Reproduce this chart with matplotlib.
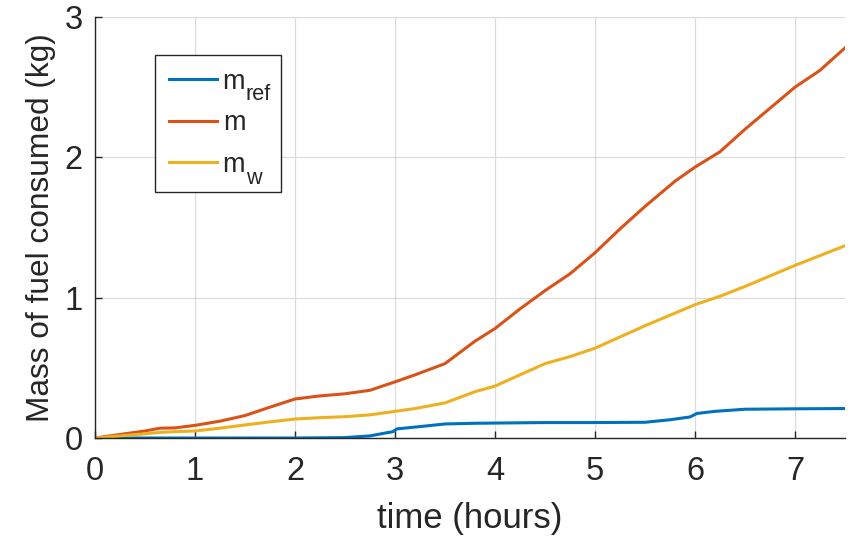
import matplotlib
matplotlib.use("Agg")
import matplotlib.pyplot as plt

plt.rcParams['font.family'] = ['Liberation Sans', 'DejaVu Sans']

# time (hours)
t_m = [0, 0.25, 0.5, 0.65, 0.8, 1.0, 1.25, 1.5, 1.75, 2.0, 2.25, 2.5, 2.75, 3.0, 3.2, 3.5, 3.8,
       4.0, 4.25, 4.5, 4.75, 5.0, 5.25, 5.5, 5.8, 6.0, 6.25, 6.5, 6.75, 7.0, 7.25, 7.5]
m = [0, 0.025, 0.05, 0.07, 0.072, 0.09, 0.12, 0.16, 0.22, 0.278, 0.30, 0.315, 0.34, 0.40, 0.45, 0.53, 0.69,
     0.78, 0.92, 1.05, 1.17, 1.32, 1.49, 1.65, 1.83, 1.93, 2.04, 2.20, 2.35, 2.50, 2.62, 2.78]
m_w = [0, 0.015, 0.03, 0.04, 0.045, 0.05, 0.07, 0.093, 0.115, 0.135, 0.145, 0.152, 0.165, 0.19, 0.21, 0.25, 0.33,
       0.37, 0.45, 0.53, 0.58, 0.64, 0.72, 0.80, 0.89, 0.95, 1.01, 1.08, 1.155, 1.23, 1.30, 1.37]

t_ref = [0, 1.0, 2.0, 2.5, 2.75, 2.9, 2.98, 3.02, 3.3, 3.5, 3.8, 4.5, 5.0, 5.5, 5.75, 5.95, 6.02, 6.2, 6.5, 7.0, 7.5]
m_ref = [0, 0, 0, 0.003, 0.015, 0.035, 0.045, 0.065, 0.085, 0.10, 0.105, 0.11, 0.11, 0.112, 0.13, 0.15, 0.175, 0.19, 0.205, 0.208, 0.21]

# legend labels: base symbol + subscript (MATLAB TeX style m_{ref}, m, m_{w})
label_base = ['m', 'm', 'm']
label_sub = ['ref', '', 'w']
colors = ['#0072BD', '#D95319', '#EDB120']
xticks = [0, 1, 2, 3, 4, 5, 6, 7]
yticks = [0, 1, 2, 3]

fig = plt.figure(figsize=(8.51, 5.38), dpi=100)
ax = fig.add_axes([95/851, 1-438/538, 750/851, 421/538])

series = [(t_ref, m_ref), (t_m, m), (t_m, m_w)]
for (tx, ty), c, b, s in zip(series, colors, label_base, label_sub):
    ax.plot(tx, ty, color=c, lw=2.2, label=b + ('   ' if s else ''))

ax.set_xlim(0, 7.5)
ax.set_ylim(0, 3)
ax.set_xticks(xticks)
ax.set_yticks(yticks)
ax.grid(True, color='#dcdcdc', lw=0.9)
ax.set_axisbelow(True)
for sp in ['top', 'right']:
    ax.spines[sp].set_visible(False)
for sp in ['left', 'bottom']:
    ax.spines[sp].set_color('#262626')
    ax.spines[sp].set_linewidth(1.0)
ax.tick_params(direction='in', length=5, width=1, color='#262626', labelsize=23.5, labelcolor='#262626')
ax.tick_params(axis='y', pad=9)
ax.tick_params(axis='x', pad=13)
ax.set_xlabel('time (hours)', fontsize=25, color='#262626', labelpad=11)
ax.set_ylabel('Mass of fuel consumed (kg)', fontsize=22.8, color='#262626', labelpad=6)

leg_fs = 19.5
leg = ax.legend(loc='upper left', bbox_to_anchor=(60/750, 1-38/421), fontsize=leg_fs,
                frameon=True, fancybox=False, edgecolor='#262626', framealpha=1,
                handlelength=1.8, handletextpad=0.2, labelspacing=0.58,
                borderpad=0.5, borderaxespad=0)
leg.get_frame().set_linewidth(1.0)
for txt, s in zip(leg.get_texts(), label_sub):
    txt.set_color('#262626')
    if s:
        # subscript placed right after the "m", lowered below the baseline
        ax.annotate(s, xy=(0, 0), xycoords=txt,
                    xytext=(0.833 * leg_fs + 0.5, -4.0), textcoords='offset points',
                    fontsize=leg_fs * 0.8, color='#262626', va='baseline', ha='left',
                    zorder=10, annotation_clip=False)

fig.savefig('out.png', dpi=100)
